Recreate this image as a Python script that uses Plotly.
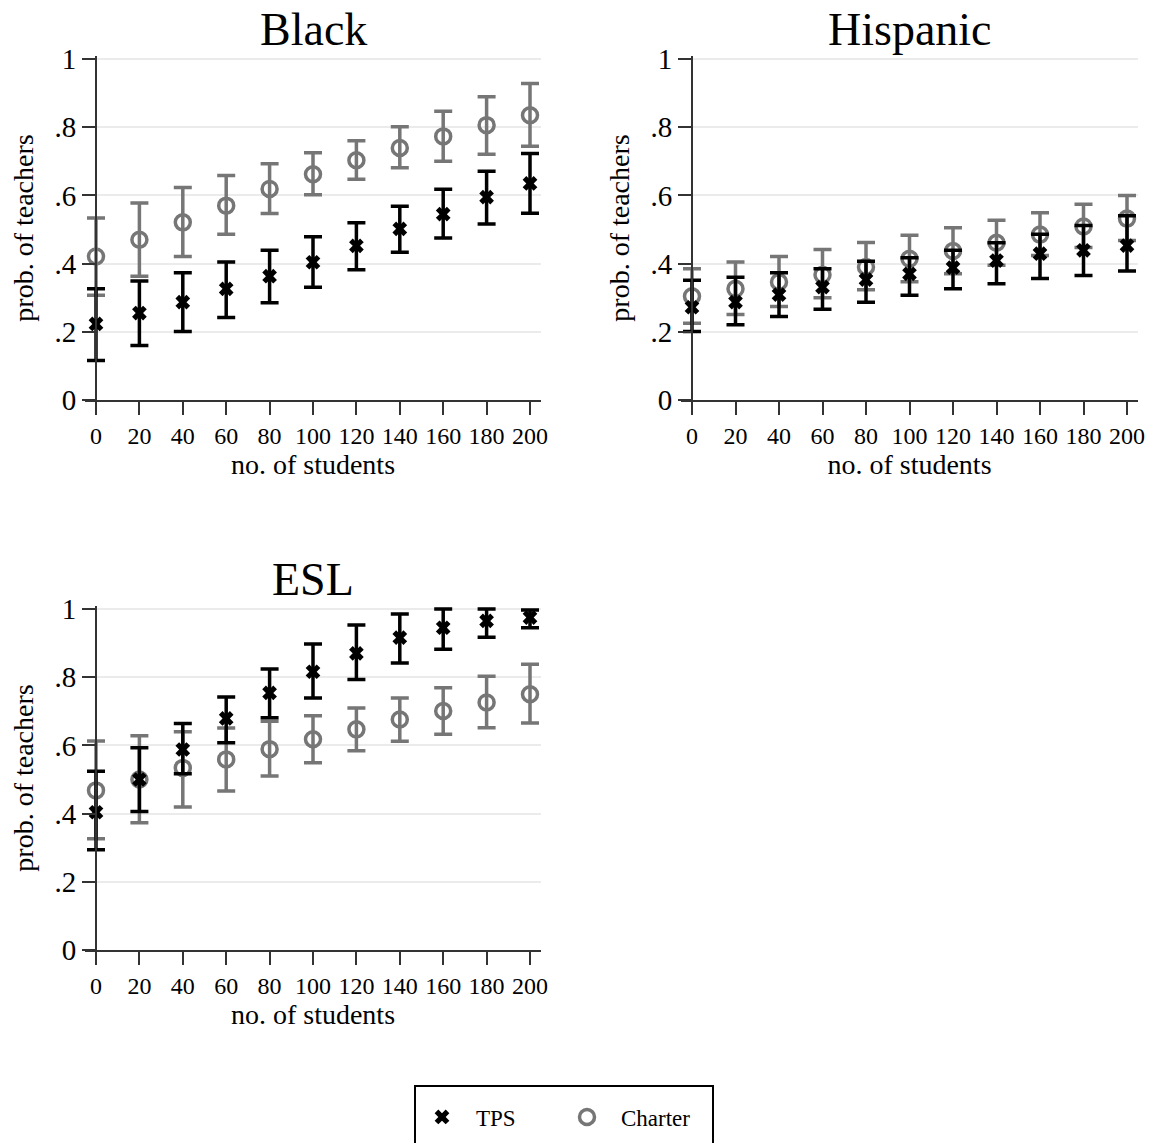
import plotly.graph_objects as go

# ---------------- data ----------------
students = [0, 20, 40, 60, 80, 100, 120, 140, 160, 180, 200]

black_tps = [0.223, 0.255, 0.287, 0.326, 0.363, 0.404, 0.452, 0.502, 0.545, 0.595, 0.635]
black_tps_hi = [0.326, 0.349, 0.373, 0.405, 0.439, 0.479, 0.520, 0.568, 0.618, 0.671, 0.723]
black_tps_lo = [0.116, 0.160, 0.201, 0.242, 0.285, 0.331, 0.382, 0.433, 0.475, 0.516, 0.548]
black_ch = [0.421, 0.470, 0.521, 0.570, 0.619, 0.662, 0.703, 0.739, 0.773, 0.806, 0.835]
black_ch_hi = [0.534, 0.578, 0.623, 0.658, 0.693, 0.725, 0.760, 0.801, 0.847, 0.889, 0.928]
black_ch_lo = [0.307, 0.363, 0.421, 0.486, 0.547, 0.602, 0.647, 0.681, 0.700, 0.721, 0.744]

hisp_tps = [0.272, 0.287, 0.309, 0.331, 0.353, 0.370, 0.388, 0.409, 0.429, 0.439, 0.453]
hisp_tps_hi = [0.351, 0.360, 0.373, 0.385, 0.407, 0.417, 0.439, 0.461, 0.486, 0.512, 0.540]
hisp_tps_lo = [0.201, 0.221, 0.245, 0.266, 0.287, 0.307, 0.326, 0.341, 0.356, 0.365, 0.378]
hisp_ch = [0.304, 0.326, 0.346, 0.367, 0.390, 0.414, 0.437, 0.461, 0.485, 0.509, 0.532]
hisp_ch_hi = [0.385, 0.405, 0.421, 0.441, 0.462, 0.483, 0.505, 0.527, 0.549, 0.574, 0.600]
hisp_ch_lo = [0.225, 0.251, 0.274, 0.300, 0.323, 0.347, 0.370, 0.395, 0.424, 0.447, 0.468]

esl_tps = [0.404, 0.500, 0.588, 0.679, 0.754, 0.816, 0.870, 0.916, 0.945, 0.965, 0.975]
esl_tps_hi = [0.524, 0.593, 0.664, 0.742, 0.824, 0.897, 0.953, 0.985, 1.000, 1.000, 0.997]
esl_tps_lo = [0.294, 0.406, 0.517, 0.608, 0.681, 0.739, 0.793, 0.842, 0.882, 0.917, 0.945]
esl_ch = [0.468, 0.500, 0.534, 0.559, 0.589, 0.618, 0.647, 0.676, 0.701, 0.726, 0.750]
esl_ch_hi = [0.613, 0.628, 0.640, 0.651, 0.671, 0.687, 0.710, 0.739, 0.769, 0.803, 0.838]
esl_ch_lo = [0.326, 0.373, 0.419, 0.466, 0.510, 0.549, 0.584, 0.612, 0.633, 0.652, 0.666]

panel_titles = ["Black", "Hispanic", "ESL"]
x_ticks = [0, 20, 40, 60, 80, 100, 120, 140, 160, 180, 200]
y_ticks = [0, 0.2, 0.4, 0.6, 0.8, 1.0]
y_tick_text = ["0", ".2", ".4", ".6", ".8", "1"]

# ---------------- styling ----------------
W, H = 1153, 1143
FONT = "Liberation Serif, Times New Roman, serif"
TPS_COLOR = "#000000"
CH_COLOR = "#767676"
AX_COLOR = "#333333"
PAD_X = 11   # px of breathing room so end caps are not clipped
PAD_Y = 3

panels = [
    # (x0px, x1px, top px, bottom px) : pixel span of value range 0..200 / 0..1
    (96, 530, 59, 400),
    (692, 1127, 59, 400),
    (96, 530, 609, 950),
]
data = [
    (black_tps, black_tps_hi, black_tps_lo, black_ch, black_ch_hi, black_ch_lo),
    (hisp_tps, hisp_tps_hi, hisp_tps_lo, hisp_ch, hisp_ch_hi, hisp_ch_lo),
    (esl_tps, esl_tps_hi, esl_tps_lo, esl_ch, esl_ch_hi, esl_ch_lo),
]

fig = go.Figure()
layout = {}
annotations = []

for i, ((x0, x1, yt, yb), d, title) in enumerate(zip(panels, data, panel_titles)):
    sfx = "" if i == 0 else str(i + 1)
    tps, tps_hi, tps_lo, ch, ch_hi, ch_lo = d
    xa, ya = "x" + sfx, "y" + sfx

    fig.add_trace(go.Scatter(
        x=students, y=ch, mode="markers", name="Charter",
        legendrank=2, showlegend=(i == 0), cliponaxis=False,
        marker=dict(symbol="circle-open", size=15, color=CH_COLOR, line=dict(width=3.5, color=CH_COLOR)),
        error_y=dict(type="data", symmetric=False,
                     array=[h - c for h, c in zip(ch_hi, ch)],
                     arrayminus=[c - l for c, l in zip(ch, ch_lo)],
                     color=CH_COLOR, thickness=3.5, width=9),
        xaxis=xa, yaxis=ya,
    ))
    fig.add_trace(go.Scatter(
        x=students, y=tps, mode="markers", name="TPS",
        legendrank=1, showlegend=(i == 0), cliponaxis=False,
        marker=dict(symbol="x", size=13, color=TPS_COLOR, line=dict(width=0)),
        error_y=dict(type="data", symmetric=False,
                     array=[h - c for h, c in zip(tps_hi, tps)],
                     arrayminus=[c - l for c, l in zip(tps, tps_lo)],
                     color=TPS_COLOR, thickness=3.5, width=9),
        xaxis=xa, yaxis=ya,
    ))

    ux = 200.0 / (x1 - x0)        # data units per px on x
    uy = 1.0 / (yb - yt)          # data units per px on y
    layout["xaxis" + sfx] = dict(
        domain=[(x0 - PAD_X) / W, (x1 + PAD_X) / W], anchor=ya,
        range=[-PAD_X * ux, 200 + PAD_X * ux], automargin=False,
        tickvals=x_ticks, ticks="outside", ticklen=13, tickwidth=2, tickcolor=AX_COLOR,
        showline=True, linecolor=AX_COLOR, linewidth=2, showgrid=False, zeroline=False,
        tickfont=dict(family=FONT, size=24, color="black"),
        title=dict(text="no. of students", font=dict(family=FONT, size=28, color="black"), standoff=6),
    )
    layout["yaxis" + sfx] = dict(
        domain=[1 - yb / H, 1 - (yt - PAD_Y) / H], anchor="free", position=x0 / W, overlaying=None,
        range=[0, 1 + PAD_Y * uy], automargin=False,
        tickvals=y_ticks, ticktext=y_tick_text, ticks="outside", ticklen=13, tickwidth=2, tickcolor=AX_COLOR,
        showline=True, linecolor=AX_COLOR, linewidth=2,
        showgrid=True, gridcolor="#ebebeb", gridwidth=2, zeroline=False,
        tickfont=dict(family=FONT, size=29, color="black"),
        title=dict(text="prob. of teachers", font=dict(family=FONT, size=28, color="black"), standoff=12),
    )
    annotations.append(dict(
        text=title, x=(x0 + x1) / 2 / W, y=1 - (yt - 30) / H, xref="paper", yref="paper",
        xanchor="center", yanchor="middle", showarrow=False,
        font=dict(family=FONT, size=46, color="black"),
    ))

fig.update_layout(**layout)
fig.update_layout(
    template="none",
    width=W, height=H, autosize=False,
    margin=dict(l=0, r=0, t=0, b=0, autoexpand=False),
    paper_bgcolor="white", plot_bgcolor="white",
    font=dict(family=FONT, color="black"),
    annotations=annotations,
    showlegend=True,
    shapes=[dict(type="rect", xref="paper", yref="paper",
                 x0=415 / W, x1=713 / W, y0=1 - 1150 / H, y1=1 - 1086 / H,
                 line=dict(color="black", width=2), fillcolor="white", layer="below")],
    legend=dict(
        orientation="h", x=408 / W, xanchor="left", y=1 - 1117 / H, yanchor="middle",
        borderwidth=0, bgcolor="rgba(0,0,0,0)",
        font=dict(family=FONT, size=23, color="black"),
        entrywidth=72, entrywidthmode="pixels",
        itemwidth=58, itemsizing="trace",
    ),
)

fig.write_html(
    "out.html",
    config={"displayModeBar": False},
    post_script="document.body.style.margin='0';document.body.style.overflow='hidden';",
)
